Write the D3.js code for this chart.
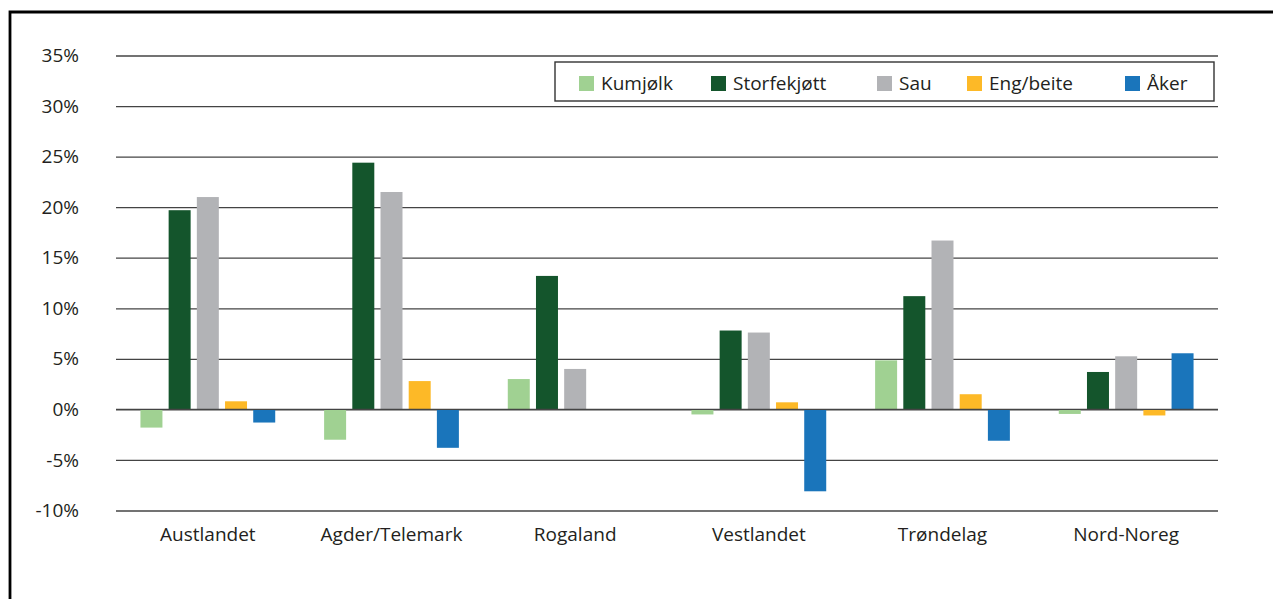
<!DOCTYPE html>
<html>
<head>
<meta charset="utf-8">
<script src="https://cdn.jsdelivr.net/npm/d3@7"></script>
<style>
  html, body { margin: 0; padding: 0; background: #fff; }
  svg { display: block; font-family: "Open Sans", "Noto Sans", sans-serif; }
  svg text { font-family: "Open Sans", "Noto Sans", sans-serif; }
</style>
</head>
<body>
<svg id="chart" width="1273" height="599"></svg>
<script>
const categories = ["Austlandet", "Agder/Telemark", "Rogaland", "Vestlandet", "Trøndelag", "Nord-Noreg"];
const seriesNames = ["Kumjølk", "Storfekjøtt", "Sau", "Eng/beite", "Åker"];
const seriesColors = ["#a0d192", "#14552c", "#b2b3b6", "#fdb927", "#1a75bb"];
const kumjolk     = [-1.8, -3.0, 3.0, -0.5, 4.85, -0.45];
const storfekjott = [19.7, 24.4, 13.2, 7.8, 11.2, 3.7];
const sau         = [21.0, 21.5, 4.0, 7.6, 16.7, 5.25];
const engBeite    = [0.8, 2.8, 0, 0.7, 1.5, -0.6];
const aker        = [-1.3, -3.8, 0, -8.1, -3.1, 5.55];
const yTicks = [35, 30, 25, 20, 15, 10, 5, 0, -5, -10];

const seriesValues = [kumjolk, storfekjott, sau, engBeite, aker];

const svg = d3.select("#chart");
const plotLeft = 116, plotRight = 1218, plotTop = 55.5, plotBottom = 510.5;
const fontStack = '"Open Sans", "Noto Sans", sans-serif';

// outer frame (only top and left edges visible)
svg.append("path")
  .attr("d", "M10,610 L10,12 L1290,12")
  .attr("fill", "none").attr("stroke", "#000").attr("stroke-width", 2.8);

const x0 = d3.scaleBand().domain(categories).range([plotLeft, plotRight]).paddingInner(0).paddingOuter(0);
const x1 = d3.scaleBand().domain(seriesNames).range([0, x0.bandwidth()]).paddingInner(0.22).paddingOuter(0.867);
const y = d3.scaleLinear().domain([-10, 35]).range([plotBottom, plotTop]);

// grid lines
const yAxis = d3.axisLeft(y).tickValues(yTicks).tickSize(-(plotRight - plotLeft)).tickPadding(37).tickFormat(d => d + "%");
const gy = svg.append("g").attr("transform", `translate(${plotLeft},0)`).call(yAxis);
gy.attr("font-family", fontStack).attr("font-size", 19);
gy.select(".domain").remove();
gy.selectAll(".tick line").attr("stroke", "#444").attr("stroke-width", 1.3);
gy.selectAll(".tick text").attr("fill", "#231f20");

// bars
const groups = svg.append("g").selectAll("g")
  .data(categories)
  .join("g")
  .attr("transform", d => `translate(${x0(d)},0)`);

groups.selectAll("rect")
  .data((c, ci) => seriesNames.map((s, si) => ({ s, si, v: seriesValues[si][ci] })).filter(d => d.v !== 0))
  .join("rect")
  .attr("x", d => x1(d.s))
  .attr("width", x1.bandwidth())
  .attr("y", d => y(Math.max(0, d.v)))
  .attr("height", d => Math.abs(y(d.v) - y(0)))
  .attr("fill", d => seriesColors[d.si]);

// redraw zero line on top
svg.append("line")
  .attr("x1", plotLeft).attr("x2", plotRight)
  .attr("y1", y(0)).attr("y2", y(0))
  .attr("stroke", "#444").attr("stroke-width", 1.3);

// category labels
const xAxis = d3.axisBottom(x0).tickSize(0).tickPadding(17);
const gx = svg.append("g").attr("transform", `translate(0,${plotBottom})`).call(xAxis);
gx.attr("font-family", fontStack).attr("font-size", 19);
gx.select(".domain").remove();
gx.selectAll(".tick text").attr("fill", "#231f20");

// legend
const legendBox = { x: 555, y: 62, w: 659, h: 39 };
svg.append("rect")
  .attr("x", legendBox.x).attr("y", legendBox.y)
  .attr("width", legendBox.w).attr("height", legendBox.h)
  .attr("fill", "#fff").attr("stroke", "#333").attr("stroke-width", 1.4);
const legendX = [579, 711, 877, 967, 1125];
const li = svg.append("g").selectAll("g")
  .data(seriesNames)
  .join("g")
  .attr("transform", (d, i) => `translate(${legendX[i]},${legendBox.y + 14})`);
li.append("rect").attr("width", 15).attr("height", 15).attr("fill", (d, i) => seriesColors[i]);
li.append("text").attr("x", 22).attr("y", 7.5).attr("dy", "0.35em")
  .attr("fill", "#231f20").style("font-size", "19px").text(d => d);
</script>
</body>
</html>
